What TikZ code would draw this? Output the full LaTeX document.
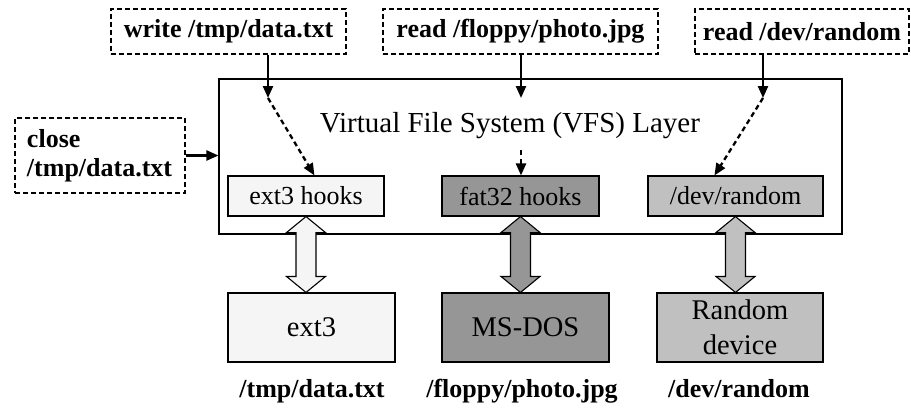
\documentclass[tikz,border=0pt]{standalone}
\usepackage{fontspec}
\setmainfont{Liberation Serif}
\usetikzlibrary{arrows.meta,calc}
\definecolor{extfill}{HTML}{F5F5F5}
\definecolor{fatfill}{HTML}{969696}
\definecolor{devfill}{HTML}{C0C0C0}

% hollow double-headed arrow from the bottom of #1 down to the top of #2
\newcommand\fsdblarrow[3]{%
  \draw[line width=1.1pt,fill=#3,line join=miter]
    let \p1=(#1.south), \p2=(#2.north) in
    (\x1,\y1) -- (\x1+19.5pt,\y1-16pt) -- (\x1+10pt,\y1-16pt)
    -- (\x1+10pt,\y2+16pt) -- (\x1+19.5pt,\y2+16pt) -- (\x1,\y2)
    -- (\x1-19.5pt,\y2+16pt) -- (\x1-10pt,\y2+16pt)
    -- (\x1-10pt,\y1-16pt) -- (\x1-19.5pt,\y1-16pt) -- cycle;}

\begin{document}
\begin{tikzpicture}[x=1pt,y=-1pt,
  reqbox/.style={draw,line width=2.3pt,dash pattern=on 5pt off 3pt,inner sep=0pt,
    font=\fontsize{26}{29}\selectfont\bfseries},
  lbl/.style={font=\fontsize{26}{29}\selectfont\bfseries,anchor=base},
  hookbox/.style={draw,line width=1.1pt,inner sep=0pt,minimum height=40pt,
    font=\fontsize{26}{30}\selectfont},
  fsbox/.style={draw,line width=1.1pt,inner sep=0pt,minimum height=69pt,
    font=\fontsize{28.5}{35}\selectfont,align=center},
  solidarr/.style={-{Triangle[length=12pt,width=10pt]},line width=2.3pt},
  dasharr/.style={-{Triangle[length=12pt,width=10pt]},line width=2.3pt,
    dash pattern=on 5pt off 3.5pt},
]
\useasboundingbox (0,0) rectangle (911,408);

% requests issued by applications
\node[reqbox,minimum width=235pt,minimum height=45pt] (wr) at (228.5,31.5) {write /tmp/data.txt};
\node[reqbox,minimum width=275pt,minimum height=45pt] (rf) at (520.5,31.5) {read /floppy/photo.jpg};
\node[reqbox,minimum width=214pt,minimum height=45pt] (rd) at (802,31.5) {read /dev/random};
\node[reqbox,minimum width=170pt,minimum height=75pt,align=left,text width=146pt]
  (cl) at (100,155.5) {close\\/tmp/data.txt};

% VFS layer
\node[draw,line width=1.1pt,inner sep=0pt,minimum width=623pt,minimum height=155pt]
  (vfs) at (530.5,156.5) {};
\node[font=\fontsize{29}{34}\selectfont,anchor=base] (vfst) at (510,132)
  {Virtual File System (VFS) Layer};

% per-filesystem hooks
\node[hookbox,fill=extfill,minimum width=156pt] (h1) at (306,196) {ext3 hooks};
\node[hookbox,fill=fatfill,minimum width=157pt] (h2) at (520.5,196) {fat32 hooks};
\node[hookbox,fill=devfill,minimum width=175pt] (h3) at (735.5,196) {/dev/random};

% backing filesystems / devices
\node[fsbox,fill=extfill,minimum width=167pt] (b1) at (311.5,327.5) {ext3};
\node[fsbox,fill=fatfill,minimum width=167pt] (b2) at (525.5,327.5) {MS-DOS};
\node[fsbox,fill=devfill,minimum width=166pt] (b3) at (740,327.5) {Random\\device};

\node[lbl] (l1) at (312,397) {/tmp/data.txt};
\node[lbl] (l2) at (522,397) {/floppy/photo.jpg};
\node[lbl] (l3) at (739,397) {/dev/random};

% hook <-> filesystem links
\fsdblarrow{h1}{b1}{extfill}
\fsdblarrow{h2}{b2}{fatfill}
\fsdblarrow{h3}{b3}{devfill}

% request dispatch
\coordinate (j1) at (268,98);
\coordinate (j2) at (521,98);
\coordinate (j3) at (763,98);
\coordinate (d2) at (521,150);
\draw[solidarr] (wr.south -| j1) -- (j1);
\draw[dasharr] (j1) -- ($(h1.north west)+(87,0)$);
\draw[solidarr] (rf.south -| j2) -- (j2);
\draw[dasharr] (d2) -- (h2.north -| d2);
\draw[solidarr] (rd.south -| j3) -- (j3);
\draw[dasharr] (j3) -- ($(h3.north west)+(67,0)$);
\draw[solidarr] (cl.east) -- (cl.east -| vfs.west);
\end{tikzpicture}
\end{document}
